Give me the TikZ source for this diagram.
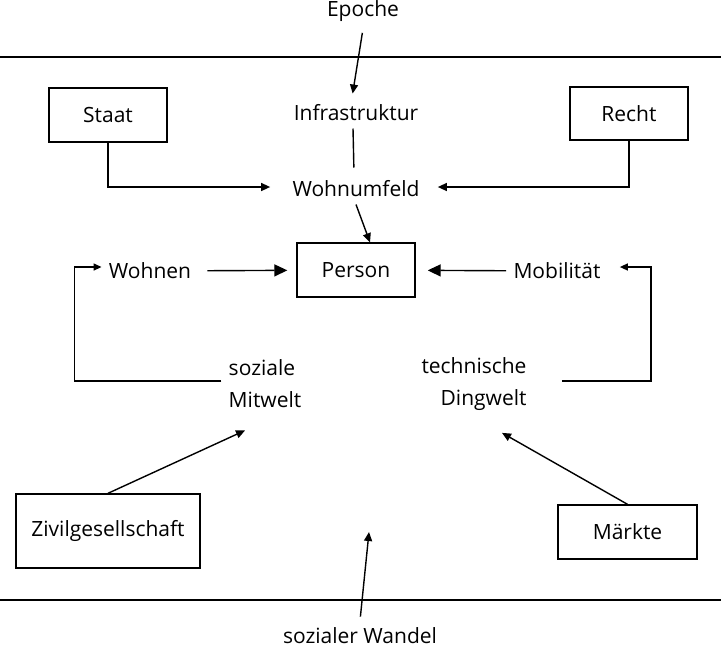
\documentclass[tikz,border=0pt]{standalone}
\usepackage{fontspec}
\setmainfont{Open Sans}
\usetikzlibrary{arrows.meta}

\begin{document}
\begin{tikzpicture}[x=0.5pt,y=-0.5pt,line width=0.7pt,
        font=\fontsize{10.5}{16}\selectfont,
        box/.style={draw},
        pfeil/.style={-{Triangle[length=4.5pt,width=4pt]}},
        grosspfeil/.style={-{Triangle[length=6.5pt,width=6pt]}},
        kleinpfeil/.style={-{Triangle[length=4pt,width=3.5pt]}}]
        \useasboundingbox (0,0) rectangle (721,649);

        %GRENZEN
        \draw (0,57) -- (721,57);
        \draw (0,600) -- (721,600);

        %TEXTE
        \node (epoche) at (363,11) {Epoche};
        \node (infra) at (356,113) {Infrastruktur};
        \node (umfeld) at (356,189) {Wohnumfeld};
        \node (wohnen) at (150,271) {Wohnen};
        \node (mobil) at (557,271) {Mobilität};
        \node[align=left] (mitwelt) at (265,384) {soziale\\Mitwelt};
        \node[align=right] (dingwelt) at (474,384) {technische\\Dingwelt};
        \node (wandel) at (360,636) {sozialer Wandel};

        %KAESTEN
        \node[box, minimum width=59pt, minimum height=27pt] (staat) at (108,115) {Staat};
        \node[box, minimum width=59pt, minimum height=26.5pt] (recht) at (629,113.5) {Recht};
        \node[box, minimum width=59pt, minimum height=27pt] (person) at (356,270) {Person};
        \node[box, minimum width=92pt, minimum height=37pt] (zivil) at (108,531) {Zivilgesellschaft};
        \node[box, minimum width=69.5pt, minimum height=27pt] (maerkte) at (627.5,532) {Märkte};
        \coordinate (mitte) at (369,532);

        %PFEILE
        \draw[pfeil, shorten <=2pt, shorten >=2pt] (epoche.south) -- ([xshift=-2pt]infra.north);
        \draw[shorten >=3pt] ([xshift=-1.5pt]infra.south) -- ([xshift=-1pt]umfeld.north);
        \draw[pfeil] (umfeld.south) -- ([xshift=7pt]person.north);
        \draw[pfeil, shorten >=7.5pt] (staat.south) |- ([yshift=1pt]umfeld.west);
        \draw[pfeil, shorten >=5.5pt] (recht.south) |- ([yshift=1pt]umfeld.east);
        \draw[grosspfeil, shorten <=4.5pt, shorten >=4.5pt] (wohnen) -- (person);
        \draw[grosspfeil, shorten >=6pt] (mobil) -- (person);

        %SCHLEIFEN
        \draw[kleinpfeil] ([yshift=1.5pt]mitwelt.west) -- ++(-147,0) |- ([yshift=2pt]wohnen.west);
        \draw[kleinpfeil, shorten <=14pt, shorten >=6pt] ([yshift=1.5pt]dingwelt.east) -- ++(117,0) |- ([yshift=2pt]mobil.east);

        %EINFLUESSE
        \draw[pfeil] (zivil.north) -- ([xshift=-10pt,yshift=-7.5pt]mitwelt.south);
        \draw[pfeil] (maerkte.north) -- ([xshift=14pt,yshift=-7.5pt]dingwelt.south);
        \draw[pfeil, shorten <=2pt] (wandel.north) -- (mitte);
    \end{tikzpicture}
\end{document}
